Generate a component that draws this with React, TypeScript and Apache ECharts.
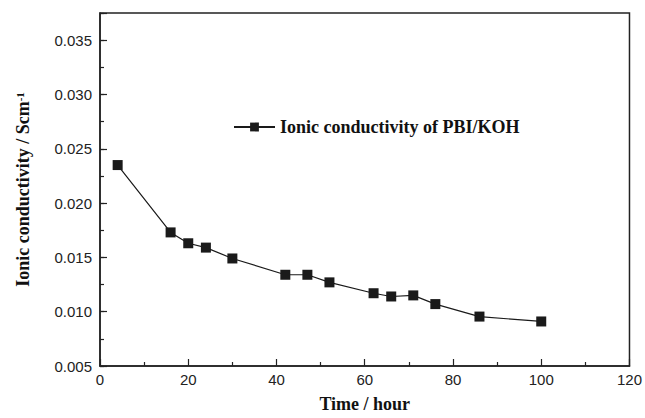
import React, { useEffect, useRef } from "react";
import * as echarts from "echarts";

const timeHours = [4, 16, 20, 24, 30, 42, 47, 52, 62, 66, 71, 76, 86, 100];
const conductivity = [0.0235, 0.0173, 0.0163, 0.0159, 0.0149, 0.0134, 0.0134, 0.0127, 0.0117, 0.0114, 0.0115, 0.0107, 0.00955, 0.0091];
const seriesName = "Ionic conductivity of PBI/KOH";
const xTitle = "Time / hour";
const yTitleMain = "Ionic conductivity / Scm";
const yTitleSup = "-1";

export default function App() {
  const ref = useRef<HTMLDivElement>(null);
  useEffect(() => {
    if (!ref.current) return;
    const chart = echarts.init(ref.current, null, { renderer: "svg" });
    const axisColor = "#222";
    const labelStyle = { color: "#222", fontFamily: "Liberation Sans", fontSize: 15 };
    const nameStyle = { color: "#111", fontFamily: "Liberation Serif", fontSize: 18, fontWeight: "bold" as const };
    chart.setOption({
      animation: false,
      backgroundColor: "#fff",
      grid: { left: 100, right: 13, top: 13, bottom: 47, show: true, borderColor: axisColor, borderWidth: 1.5, containLabel: false },
      legend: {
        left: 228,
        top: 113,
        itemWidth: 41,
        itemHeight: 11,
        itemGap: 6,
        textStyle: { ...nameStyle },
        data: [seriesName],
      },
      xAxis: {
        type: "value",
        min: 0,
        max: 120,
        interval: 20,
        name: xTitle,
        nameLocation: "middle",
        nameGap: 29,
        nameTextStyle: nameStyle,
        axisLine: { show: true, lineStyle: { color: axisColor, width: 1.5 } },
        axisTick: { show: true, inside: true, length: 7, lineStyle: { color: axisColor, width: 1.2 } },
        minorTick: { show: true, splitNumber: 2, length: 4, lineStyle: { color: axisColor, width: 1.2 } },
        axisLabel: { ...labelStyle, margin: 6 },
        splitLine: { show: false },
      },
      yAxis: [
        {
          type: "value",
          min: 0.005,
          max: 0.0375,
          interval: 0.0025,
          name: "{m|" + yTitleMain + "}{s|" + yTitleSup + "}",
          nameLocation: "middle",
          nameGap: 68,
          nameTextStyle: {
            ...nameStyle,
            rich: {
              m: { ...nameStyle },
              s: { ...nameStyle, fontSize: 11, verticalAlign: "top", lineHeight: 18, padding: [0, 0, 9, 0] },
            },
          },
          axisLine: { show: true, lineStyle: { color: axisColor, width: 1.5 } },
          axisTick: { show: true, inside: true, length: 4, lineStyle: { color: axisColor, width: 1.2 } },
          axisLabel: {
            ...labelStyle,
            margin: 8,
            formatter: (v: number) => {
              const k = Math.round(v / 0.0025);
              if (k % 2 !== 0) return "";
              return v.toFixed(3);
            },
          },
          splitLine: { show: false },
        },
        {
          type: "value",
          min: 0.005,
          max: 0.0375,
          interval: 0.005,
          position: "left",
          axisLine: { show: false },
          axisTick: { show: true, inside: true, length: 7, lineStyle: { color: axisColor, width: 1.2 } },
          axisLabel: { show: false },
          splitLine: { show: false },
        },
      ],
      series: [
        {
          name: seriesName,
          type: "line",
          data: timeHours.map((t, i) => [t, conductivity[i]]),
          symbol: "rect",
          symbolSize: 10,
          itemStyle: { color: "#1a1a1a" },
          lineStyle: { color: "#1a1a1a", width: 1.2 },
        },
      ],
    });
    return () => chart.dispose();
  }, []);
  return <div ref={ref} style={{ position: "fixed", left: 0, top: 0, width: 645, height: 418 }} />;
}
